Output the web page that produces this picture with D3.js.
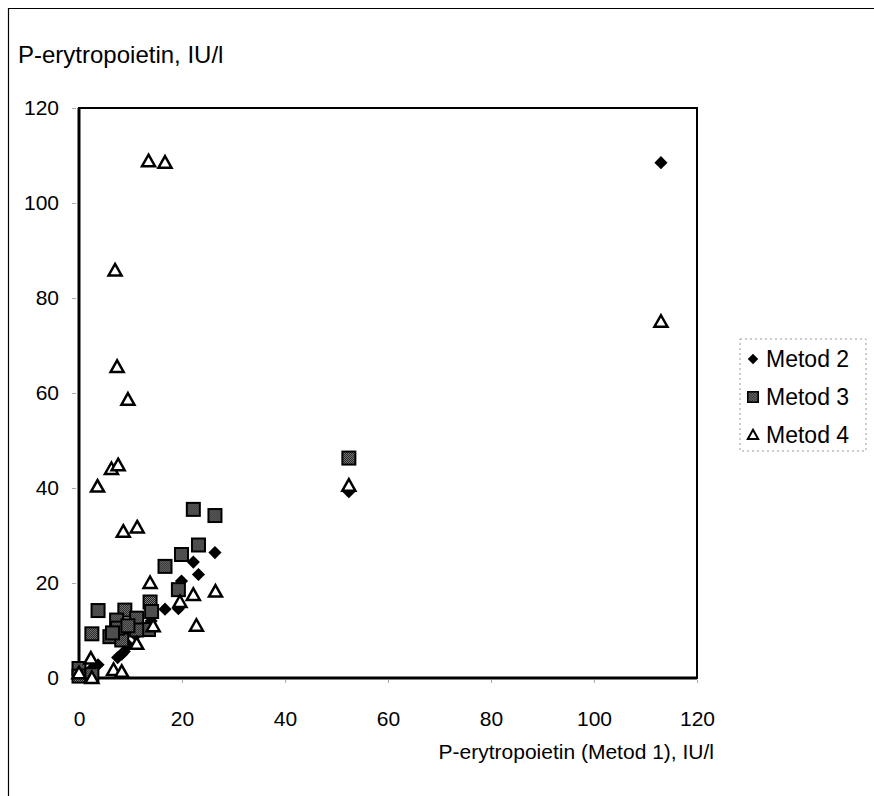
<!DOCTYPE html>
<html>
<head>
<meta charset="utf-8">
<script src="https://cdn.jsdelivr.net/npm/d3@7"></script>
<style>
  body { margin: 0; background: #fff; }
  svg { display: block; font-family: Arial, "Liberation Sans", sans-serif; }
</style>
</head>
<body>
<svg id="chart" width="874" height="796"></svg>
<script>
// values, [metod 1, other metod]
const metod2 = [
  [113, 108.5], [52.4, 39.2], [26.4, 26.4], [22.2, 24.4], [23.2, 21.8],
  [19.9, 20.4], [19.3, 14.6], [16.7, 14.5], [14, 12], [11, 9],
  [9.5, 7], [8.8, 5.6], [8.3, 5], [7.5, 4.3], [3.7, 2.8], [2.5, 2]
];
const metod3 = [
  [52.4, 46.3], [22.2, 35.5], [26.4, 34.2], [23.2, 28], [19.9, 26],
  [16.7, 23.5], [19.3, 18.6], [13.8, 16], [14.1, 14], [3.7, 14.2],
  [8.9, 14.3], [7.3, 12.2], [11.2, 12.6], [13.5, 10.2], [11.2, 10.1],
  [2.5, 9.3], [6, 8.7], [8.3, 8], [7.5, 10.5], [9.5, 11], [6.5, 9.5],
  [0, 2], [0, 0.4], [2.5, 0.7]
];
const metod4 = [
  [113, 75], [52.4, 40.5], [13.5, 108.8], [16.7, 108.5], [7, 85.8],
  [7.4, 65.5], [9.5, 58.6], [6.3, 44], [7.6, 44.8], [3.6, 40.3],
  [8.6, 30.8], [11.3, 31.7], [13.8, 20], [22.2, 17.5], [26.5, 18.2],
  [19.6, 16], [22.8, 11], [14.4, 10.9], [11.2, 7.2], [6.7, 1.7],
  [8.3, 1.3], [2.3, 4.1], [0, 1], [2.5, 0]
];
const xTicks = [0, 20, 40, 60, 80, 100, 120];
const yTicks = [0, 20, 40, 60, 80, 100, 120];
const legendLabels = ["Metod 2", "Metod 3", "Metod 4"];

const svg = d3.select("#chart");

// checker fill for the squares
const pat = svg.append("defs").append("pattern")
  .attr("id", "dots").attr("width", 2).attr("height", 2)
  .attr("patternUnits", "userSpaceOnUse");
pat.append("rect").attr("width", 2).attr("height", 2).attr("fill", "#111");
pat.append("rect").attr("width", 1).attr("height", 1).attr("fill", "#8a8a8a");
pat.append("rect").attr("x", 1).attr("y", 1).attr("width", 1).attr("height", 1).attr("fill", "#8a8a8a");

// outer frame (top and left only show)
svg.append("path").attr("d", "M8.5,796V8.5H874")
  .attr("fill", "none").attr("stroke", "#000").attr("stroke-width", 1.2);

const x = d3.scaleLinear().domain([0, 120]).range([79, 697]);
const y = d3.scaleLinear().domain([0, 120]).range([678, 108]);

// plot frame
svg.append("rect")
  .attr("x", x(0)).attr("y", y(120))
  .attr("width", x(120) - x(0)).attr("height", y(0) - y(120))
  .attr("fill", "none").attr("stroke", "#000").attr("stroke-width", 2);
svg.append("path").attr("d", `M${x(0)},${y(120)}V${y(0)}H${x(120)}`)
  .attr("fill", "none").attr("stroke", "#000").attr("stroke-width", 3);

// axes
const xAxis = svg.append("g").attr("transform", `translate(0,${y(0) + 2})`)
  .call(d3.axisBottom(x).tickValues(xTicks).tickSize(3).tickPadding(28));
const yAxis = svg.append("g").attr("transform", `translate(${x(0) - 3},0)`)
  .call(d3.axisLeft(y).tickValues(yTicks).tickSize(4).tickPadding(13));
[xAxis, yAxis].forEach(a => {
  a.select(".domain").remove();
  a.selectAll("line").attr("stroke", "#aaa");
  a.selectAll("text").attr("font-size", 21).attr("fill", "#000")
    .attr("font-family", "Arial, 'Liberation Sans', sans-serif");
});

// titles
svg.append("text").attr("x", 18).attr("y", 63)
  .attr("font-size", 24).text("P-erytropoietin, IU/l");
svg.append("text").attr("x", 714).attr("y", 759).attr("text-anchor", "end")
  .attr("font-size", 21).text("P-erytropoietin (Metod 1), IU/l");

// markers
const diamond = d3.symbol().type(d3.symbolDiamond2).size(110);
const triangle = "M0,-6.5L6.5,5L-6.5,5Z";

function drawDiamond(g) {
  g.append("path").attr("d", diamond()).attr("fill", "#000");
}
function drawSquare(g) {
  g.append("rect").attr("x", -6.5).attr("y", -6.5).attr("width", 13).attr("height", 13)
    .attr("fill", "url(#dots)").attr("stroke", "#000").attr("stroke-width", 2);
}
function drawTriangle(g) {
  g.append("path").attr("d", triangle).attr("fill", "#fff")
    .attr("stroke", "#000").attr("stroke-width", 2.5).attr("stroke-linejoin", "miter");
}

const series = [
  { data: metod2, draw: drawDiamond },
  { data: metod3, draw: drawSquare },
  { data: metod4, draw: drawTriangle }
];

series.forEach(s => {
  svg.append("g").selectAll("g")
    .data(s.data)
    .enter()
    .append("g")
    .attr("transform", d => `translate(${x(d[0])},${y(d[1])})`)
    .each(function () { s.draw(d3.select(this)); });
});

// legend
const lg = svg.append("g").attr("transform", "translate(740,339)");
lg.append("rect").attr("width", 126).attr("height", 112)
  .attr("fill", "#fff").attr("stroke", "#999").attr("stroke-width", 1)
  .attr("stroke-dasharray", "2,3");
legendLabels.forEach((t, i) => {
  const row = lg.append("g").attr("transform", `translate(13,${20 + i * 38})`);
  series[i].draw(row.append("g").attr("transform", "scale(0.8)"));
  row.append("text").attr("x", 13).attr("y", 8).attr("font-size", 23).text(t);
});
</script>
</body>
</html>
